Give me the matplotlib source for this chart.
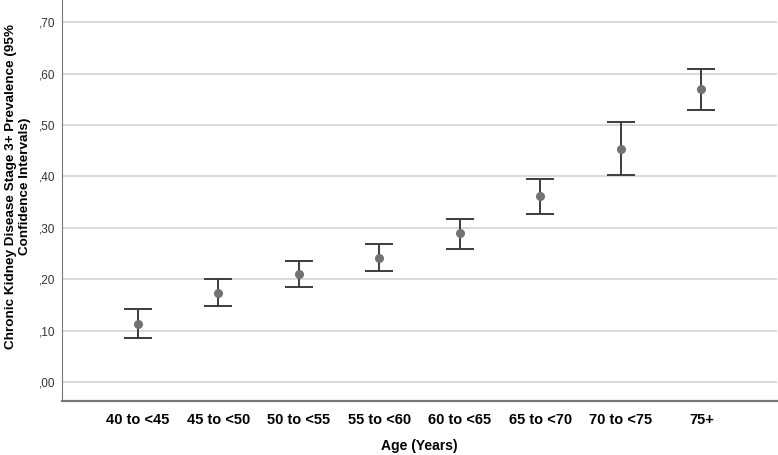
import matplotlib.pyplot as plt
from matplotlib.ticker import FuncFormatter

# age groups and CKD stage 3+ prevalence with 95% CI
ages = ["40 to <45", "45 to <50", "50 to <55", "55 to <60",
        "60 to <65", "65 to <70", "70 to <75", "75+"]
prev = [0.113, 0.174, 0.211, 0.242, 0.289, 0.361, 0.454, 0.570]
ci_low = [0.085, 0.147, 0.184, 0.216, 0.259, 0.326, 0.402, 0.530]
ci_high = [0.141, 0.201, 0.236, 0.268, 0.317, 0.394, 0.505, 0.609]

plt.rcParams['font.family'] = ['Liberation Sans', 'DejaVu Sans']

fig = plt.figure(figsize=(7.78, 4.55), dpi=100)
ax = fig.add_axes([62 / 778, 54 / 455, 715 / 778, 401 / 455])

x = list(range(len(ages)))
err = [[p - l for p, l in zip(prev, ci_low)], [h - p for p, h in zip(prev, ci_high)]]
ax.errorbar(x, prev, yerr=err, fmt='none', ecolor='#3c3c3c', elinewidth=1.4,
            capsize=10, capthick=1.4, zorder=3)
ax.plot(x, prev, 'o', color='#727272', markersize=5.5, zorder=4)

ax.set_xlim(-0.94, 7.94)
ax.set_ylim(-0.037, 0.743)
ax.set_yticks([0, 0.1, 0.2, 0.3, 0.4, 0.5, 0.6, 0.7])
ax.yaxis.set_major_formatter(FuncFormatter(lambda v, p: ("%.2f" % v).replace("0.", ",")))
ax.set_xticks(x)
ax.set_xticklabels(ages, fontsize=10.5, fontweight='bold')
ax.tick_params(axis='y', labelsize=8.5, length=0, pad=5, labelcolor='#333333')
ax.tick_params(axis='x', length=0, pad=9)

ax.grid(axis='y', color='#cfcfcf', linewidth=1.1)
ax.set_axisbelow(True)
for s in ['top', 'right']:
    ax.spines[s].set_visible(False)
ax.spines['left'].set_color('#777777')
ax.spines['bottom'].set_color('#777777')
ax.spines['bottom'].set_linewidth(1.6)

ax.set_xlabel("Age (Years)", fontsize=10, fontweight='bold')
ax.xaxis.set_label_coords(0.5, -0.094)
ax.set_ylabel("Chronic Kidney Disease Stage 3+ Prevalence (95%\nConfidence Intervals)",
              fontsize=9.7, fontweight='bold', linespacing=1.2)
ax.yaxis.set_label_coords(-0.044, 0.535)

fig.savefig("out.png", dpi=100)
